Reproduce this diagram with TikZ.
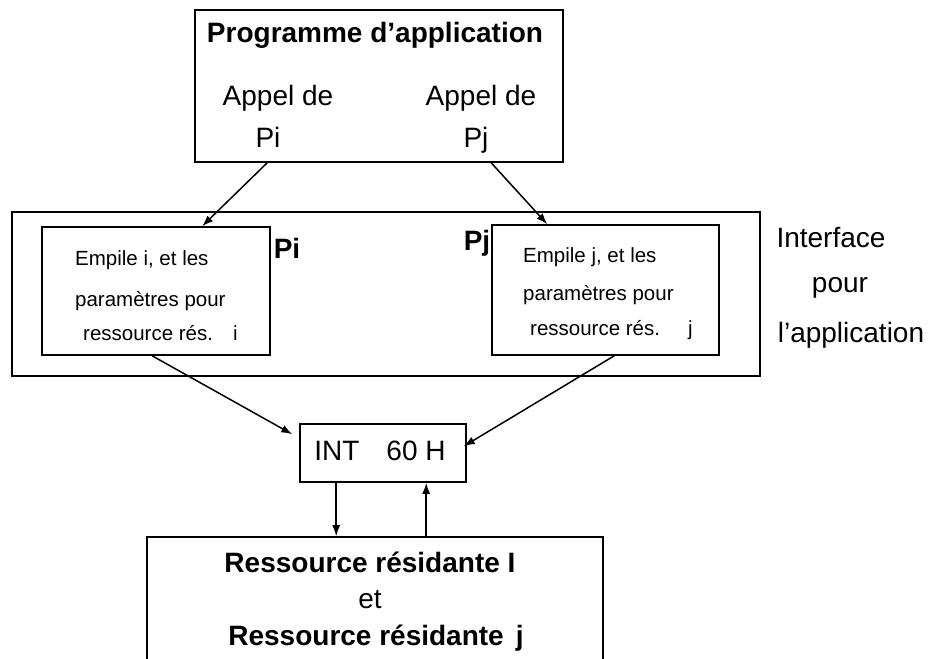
\documentclass[tikz,border=0pt]{standalone}
\usepackage{fontspec}
\setmainfont{Liberation Sans}
\usetikzlibrary{arrows.meta,calc}
\begin{document}
\begin{tikzpicture}[x=1pt,y=-1pt,
  box/.style={draw, line width=1.6pt, rectangle, inner sep=0pt},
  big/.style={font=\fontsize{28}{34}\selectfont, inner sep=0pt, anchor=base},
  bigb/.style={font=\fontsize{28}{34}\selectfont\bfseries, inner sep=0pt, anchor=base},
  small/.style={font=\fontsize{20.5}{24}\selectfont, inner sep=0pt, anchor=base west},
  arr/.style={-{Latex[length=11pt,width=8pt]}, line width=1.5pt}]
\useasboundingbox (0,0) rectangle (933,658);
\clip (0,0) rectangle (933,658);

% application program
\node[box, minimum width=368pt, minimum height=152pt] (prog) at (379,86) {};
\node[bigb] (title) at (375,43) {Programme d’application};
\node[big] (appi) at (278,106) {Appel de};
\node[big] (appj) at (481,106) {Appel de};
\node[big] (pi) at (268,147) {Pi};
\node[big] (pj) at (476,147) {Pj};

% application interface
\node[box, minimum width=748pt, minimum height=164pt] (iface) at (386,294) {};
\node[box, minimum width=228pt, minimum height=128pt] (empi) at (156,291) {};
\node[box, minimum width=227pt, minimum height=130pt] (empj) at (605.5,290) {};
\node[bigb] (lpi) at (287,258) {Pi};
\node[bigb] (lpj) at (477,250) {Pj};
\node[small] (ei1) at (75,265) {Empile i, et les};
\node[small] (ei2) at (75,306) {paramètres pour};
\node[small] (ei3) at (83,340) {ressource rés.\hspace{20pt}i};
\node[small] (ej1) at (523,262) {Empile j, et les};
\node[small] (ej2) at (523,300) {paramètres pour};
\node[small] (ej3) at (530,335) {ressource rés.\hspace{28pt}j};
\node[big] (if1) at (831,247) {Interface};
\node[big] (if2) at (840,292) {pour};
\node[big] (if3) at (851,342) {l’application};

% interrupt
\node[box, minimum width=166pt, minimum height=58pt] (int) at (383,453) {};
\node[big] (intt) at (380,460) {INT\hspace{27pt}60 H};

% resident resources
\node[box, minimum width=456pt, minimum height=183pt] (res) at (375,628.5) {};
\node[bigb] (r1) at (370,572) {Ressource résidante I};
\node[big] (r2) at (370,608) {et};
\node[bigb] (r3) at (376,645) {Ressource résidante\hspace{12pt}j};

% connectors
\draw[arr] ($(prog.south west)+(73,0)$) -- ($(empi.north west)+(161,0)$);
\draw[arr] ($(prog.south west)+(297,0)$) -- ($(empj.north west)+(56,0)$);
\draw[arr] ($(empi.south west)+(111,0)$) -- ($(int.north west)+(-7,11)$);
\draw[arr] ($(empj.south west)+(123,0)$) -- ($(int.north east)+(-3,23)$);
\draw[arr] ($(int.south west)+(37,0)$) -- ($(res.north west)+(190,0)$);
\draw[arr] ($(res.north west)+(280,0)$) -- ($(int.south west)+(127,0)$);
\end{tikzpicture}
\end{document}
